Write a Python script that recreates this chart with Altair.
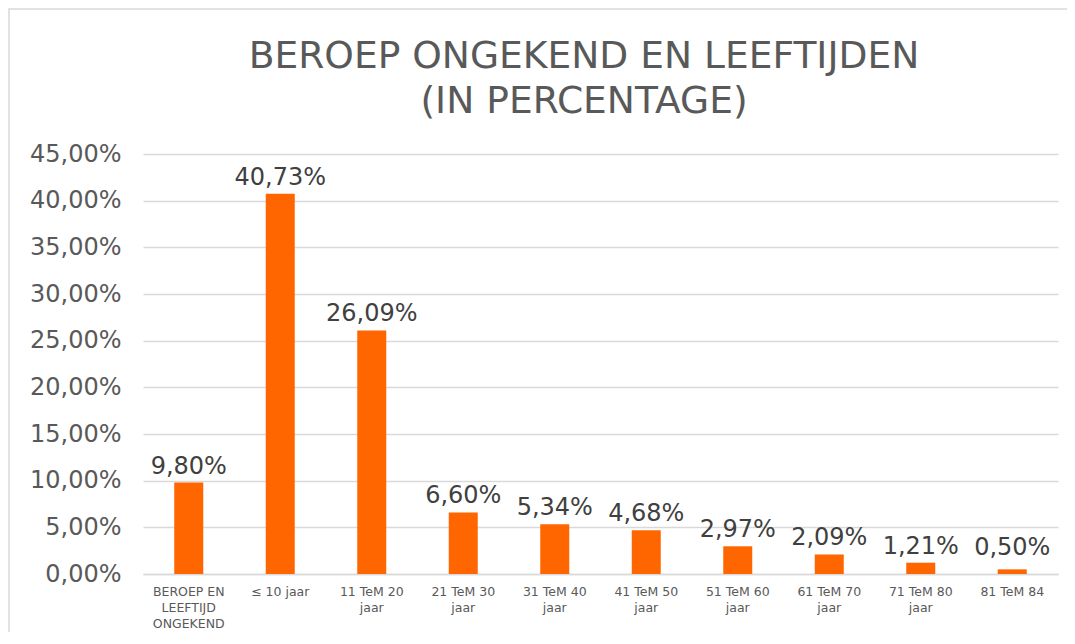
import altair as alt
import pandas as pd

categories = [
    "BEROEP EN|LEEFTIJD|ONGEKEND",
    "≤ 10 jaar",
    "11 TeM 20|jaar",
    "21 TeM 30|jaar",
    "31 TeM 40|jaar",
    "41 TeM 50|jaar",
    "51 TeM 60|jaar",
    "61 TeM 70|jaar",
    "71 TeM 80|jaar",
    "81 TeM 84",
]
values = [0.0980, 0.4073, 0.2609, 0.0660, 0.0534, 0.0468, 0.0297, 0.0209, 0.0121, 0.0050]
y_ticks = [0, 0.05, 0.10, 0.15, 0.20, 0.25, 0.30, 0.35, 0.40, 0.45]
title_lines = ["BEROEP ONGEKEND EN LEEFTIJDEN", "(IN PERCENTAGE)"]

df = pd.DataFrame({"cat": categories, "v": values})

W, H = 915, 420
FONT = "DejaVu Sans"

base = alt.Chart(df).transform_calculate(
    label="replace(format(datum.v, '.2%'), '.', ',')",
    ly="max(datum.v, 0.0107)",
)

x_enc = alt.X(
    "cat:N",
    sort=None,
    title=None,
    scale=alt.Scale(paddingInner=0.683, paddingOuter=0.3415),
    axis=alt.Axis(
        labelExpr="split(datum.value, '|')",
        labelAngle=0,
        labelFontSize=12.5,
        labelLineHeight=16,
        labelColor="#595959",
        labelFont=FONT,
        labelPadding=11,
        ticks=False,
        domainColor="#d9d9d9",
        domainWidth=1.5,
        labelBaseline="top",
    ),
)

bars = base.mark_bar(color="#FF6600").encode(
    x=x_enc,
    y=alt.Y(
        "v:Q",
        title=None,
        scale=alt.Scale(domain=[0, 0.45], nice=False),
        axis=alt.Axis(
            values=y_ticks,
            labelExpr="replace(format(datum.value, '.2%'), '.', ',')",
            labelFontSize=24,
            labelColor="#595959",
            labelFont=FONT,
            labelPadding=22,
            ticks=False,
            domain=False,
            gridColor="#d9d9d9",
            gridWidth=1.5,
        ),
    ),
)

texts = base.mark_text(
    fontSize=24, color="#404040", font=FONT, baseline="middle", dy=-16
).encode(
    x=alt.X("cat:N", sort=None),
    y=alt.Y("ly:Q"),
    text="label:N",
)

one = pd.DataFrame({"a": [0]})

frame = alt.Chart(one).mark_rect(
    fillOpacity=0, stroke="#d9d9d9", strokeWidth=1.5
).encode(
    x=alt.value(-134), x2=alt.value(960), y=alt.value(-145), y2=alt.value(520)
)

title = alt.Chart(one).mark_text(
    text=title_lines,
    fontSize=37.6,
    font=FONT,
    color="#595959",
    align="center",
    baseline="alphabetic",
    lineHeight=45,
).encode(x=alt.value(441), y=alt.value(-86))

chart = (
    alt.layer(frame, bars, texts, title)
    .properties(
        width=W,
        height=H,
        autosize=alt.AutoSizeParams(type="none"),
        padding={"left": 135, "top": 146, "right": 9, "bottom": 58},
    )
    .configure_view(stroke=None)
)

chart.save("out.html", embed_options={"renderer": "svg", "actions": False})
